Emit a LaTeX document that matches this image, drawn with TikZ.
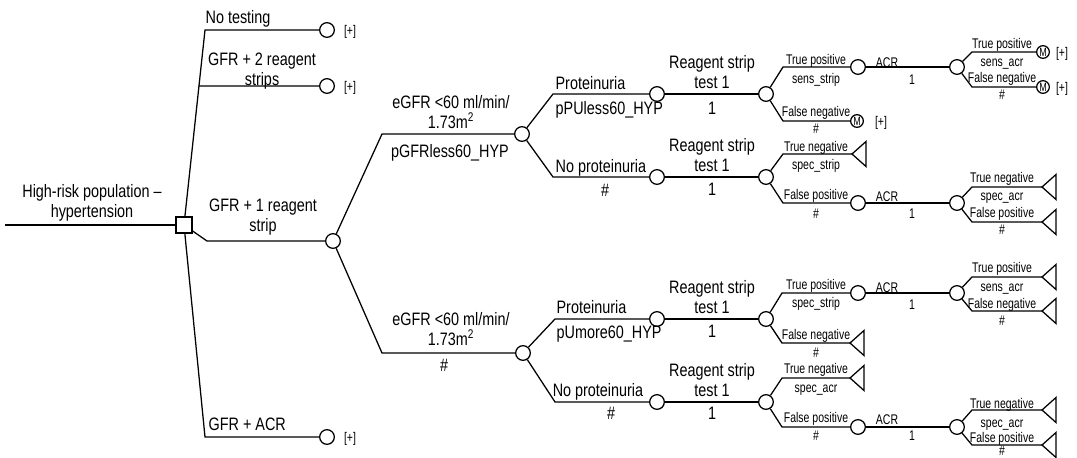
\documentclass[tikz,border=0pt]{standalone}
\usepackage{fontspec}
\setmainfont{Liberation Sans}
\newfontfamily\bigfont[FakeStretch=0.8]{Liberation Sans}
\newfontfamily\smallfont[FakeStretch=0.75]{Liberation Sans}
\usetikzlibrary{calc}

\tikzset{
    decision/.style={draw, rectangle, minimum size=12pt, inner sep=0pt, fill=white},
    chance/.style={draw, circle, minimum size=11pt, inner sep=0pt, fill=white},
    markov/.style={draw, circle, minimum size=9.5pt, inner sep=0pt, fill=white,
        font=\smallfont\fontsize{9}{10}\selectfont},
    lbl/.style={font=\bigfont\fontsize{13.5}{15.2}\selectfont, inner sep=0pt,
        text height=9.7pt, text depth=0pt},
    tlbl/.style={font=\bigfont\fontsize{13.5}{15.2}\selectfont, inner sep=0pt, align=center},
    slbl/.style={font=\smallfont\fontsize{10.5}{12}\selectfont, inner sep=0pt,
        text height=7.5pt, text depth=0pt}
}

% terminal node, apex on the left
\newcommand{\terminal}[1]{\draw (#1) -- ++(14,-12.5) -- ++(0,25) -- cycle;}

\begin{document}
\begin{tikzpicture}[x=0.75pt, y=-0.75pt, line width=0.95pt]
        \useasboundingbox (0,0) rectangle (1077,457);

        % decision
        \coordinate (start) at (5,225);
        \node[decision] (root) at (184,225) {};
        \draw (start) -- (root);
        \node[tlbl] (lroot) at (92,203) {High-risk population –\\hypertension};

        \coordinate (e1) at (205,30);
        \coordinate (e2) at ($(root.north)!0.7!(e1)$);
        \coordinate (e3) at (207,241);
        \coordinate (e4) at (205,437);
        \node[chance] (n1) at (327,30) {};
        \node[chance] (n2) at (327,86) {};
        \node[chance] (c1) at (333,241) {};
        \node[chance] (n4) at (327,437) {};
        \draw (root) -- (e1) -- (n1);
        \draw (e2) -- (n2);
        \draw (root) -- (e3) -- (c1);
        \draw (root) -- (e4) -- (n4);

        \node[lbl, anchor=west] (lnt) at (205,17) {No testing};
        \node[tlbl] (l2s) at (262,71) {GFR + 2 reagent\\strips};
        \node[tlbl] (l1s) at (263,217) {GFR + 1 reagent\\strip};
        \node[lbl, anchor=west] (lacr) at (208,424) {GFR + ACR};
        \node[slbl] (p1) at (350,30) {[+]};
        \node[slbl] (p2) at (350,86) {[+]};
        \node[slbl] (p4) at (350,437) {[+]};

        % eGFR
        \coordinate (e5) at (382,134);
        \coordinate (e6) at (382,353);
        \node[chance] (c2) at (522,134) {};
        \node[chance] (c3) at (523,353) {};
        \draw (c1) -- (e5) -- (c2);
        \draw (c1) -- (e6) -- (c3);
        \node[tlbl] (lg1) at (451,112) {eGFR <60 ml/min/\\1.73m\textsuperscript{2}};
        \node[lbl] (lg1b) at (450,151) {pGFRless60\_HYP};
        \node[tlbl] (lg2) at (451,329) {eGFR <60 ml/min/\\1.73m\textsuperscript{2}};
        \node[lbl] (lg2b) at (444,365) {\#};

        % proteinuria
        \coordinate (e7) at (553,94);
        \coordinate (e8) at (553,177);
        \coordinate (e9) at (555,319);
        \coordinate (e10) at (555,402);
        \node[chance] (r1) at (657,94) {};
        \node[chance] (r2) at (657,177) {};
        \node[chance] (r3) at (657,319) {};
        \node[chance] (r4) at (657,402) {};
        \draw (c2) -- (e7) -- (r1);
        \draw (c2) -- (e8) -- (r2);
        \draw (c3) -- (e9) -- (r3);
        \draw (c3) -- (e10) -- (r4);
        \node[lbl, anchor=west] (lp1) at (555,83) {Proteinuria};
        \node[lbl, anchor=west] (lp1b) at (555,108) {pPUless60\_HYP};
        \node[lbl, anchor=west] (lp2) at (555,166) {No proteinuria};
        \node[lbl] (lp2b) at (605,190) {\#};
        \node[lbl, anchor=west] (lp3) at (556,307) {Proteinuria};
        \node[lbl, anchor=west] (lp3b) at (556,332) {pUmore60\_HYP};
        \node[lbl] (lp4) at (598,390) {No proteinuria};
        \node[lbl] (lp4b) at (611,413) {\#};

        % reagent strip
        \node[chance] (s1) at (766,94) {};
        \node[chance] (s2) at (766,177) {};
        \node[chance] (s3) at (766,319) {};
        \node[chance] (s4) at (766,402) {};
        \draw (r1) -- (s1);
        \draw (r2) -- (s2);
        \draw (r3) -- (s3);
        \draw (r4) -- (s4);
        \node[tlbl] (lr1) at (712,72) {Reagent strip\\test 1};
        \node[lbl] (lr1b) at (712,108) {1};
        \node[tlbl] (lr2) at (712,155) {Reagent strip\\test 1};
        \node[lbl] (lr2b) at (712,189) {1};
        \node[tlbl] (lr3) at (712,297) {Reagent strip\\test 1};
        \node[lbl] (lr3b) at (712,331) {1};
        \node[tlbl] (lr4) at (712,380) {Reagent strip\\test 1};
        \node[lbl] (lr4b) at (712,413) {1};

        % strip results
        \coordinate (f1) at (783,67);
        \coordinate (f2) at (783,121);
        \coordinate (f3) at (783,154);
        \coordinate (f4) at (783,203);
        \coordinate (f5) at (782,293);
        \coordinate (f6) at (782,343);
        \coordinate (f7) at (782,378);
        \coordinate (f8) at (782,427);
        \node[chance] (a1) at (858,67) {};
        \node[markov] (m1) at (857,121) {M};
        \coordinate (t1) at (852,154);
        \node[chance] (a2) at (858,203) {};
        \node[chance] (a3) at (858,293) {};
        \coordinate (t2) at (850,343);
        \coordinate (t3) at (850,378);
        \node[chance] (a4) at (858,427) {};
        \draw (s1) -- (f1) -- (a1);
        \draw (s1) -- (f2) -- (m1);
        \draw (s2) -- (f3) -- (t1);
        \draw (s2) -- (f4) -- (a2);
        \draw (s3) -- (f5) -- (a3);
        \draw (s3) -- (f6) -- (t2);
        \draw (s4) -- (f7) -- (t3);
        \draw (s4) -- (f8) -- (a4);
        \terminal{t1}
        \terminal{t2}
        \terminal{t3}
        \node[slbl] (lt1) at (816,59) {True positive};
        \node[slbl] (lt1b) at (816,78) {sens\_strip};
        \node[slbl] (lt2) at (816,111) {False negative};
        \node[slbl] (lt2b) at (816,128) {\#};
        \node[slbl] (pm1) at (881,121) {[+]};
        \node[slbl] (lt3) at (816,146) {True negative};
        \node[slbl] (lt3b) at (816,164) {spec\_strip};
        \node[slbl] (lt4) at (816,194) {False positive};
        \node[slbl] (lt4b) at (816,213) {\#};
        \node[slbl] (lt5) at (816,284) {True positive};
        \node[slbl] (lt5b) at (816,302) {spec\_strip};
        \node[slbl] (lt6) at (816,334) {False negative};
        \node[slbl] (lt6b) at (816,352) {\#};
        \node[slbl] (lt7) at (816,368) {True negative};
        \node[slbl] (lt7b) at (816,387) {spec\_acr};
        \node[slbl] (lt8) at (816,417) {False positive};
        \node[slbl] (lt8b) at (816,435) {\#};

        % ACR
        \node[chance] (b1) at (957,67) {};
        \node[chance] (b2) at (957,203) {};
        \node[chance] (b3) at (957,293) {};
        \node[chance] (b4) at (957,427) {};
        \draw (a1) -- (b1);
        \draw (a2) -- (b2);
        \draw (a3) -- (b3);
        \draw (a4) -- (b4);
        \node[slbl] (la1) at (887,62) {ACR};
        \node[slbl] (la1b) at (912,79) {1};
        \node[slbl] (la2) at (887,196) {ACR};
        \node[slbl] (la2b) at (912,213) {1};
        \node[slbl] (la3) at (887,287) {ACR};
        \node[slbl] (la3b) at (912,304) {1};
        \node[slbl] (la4) at (887,419) {ACR};
        \node[slbl] (la4b) at (912,435) {1};

        % ACR results
        \coordinate (g1) at (972,52);
        \coordinate (g2) at (972,87);
        \coordinate (g3) at (972,187);
        \coordinate (g4) at (972,222);
        \coordinate (g5) at (972,277);
        \coordinate (g6) at (972,311);
        \coordinate (g7) at (972,410);
        \coordinate (g8) at (972,445);
        \node[markov] (m2) at (1043,52) {M};
        \node[markov] (m3) at (1043,87) {M};
        \coordinate (t4) at (1042,187);
        \coordinate (t5) at (1042,222);
        \coordinate (t6) at (1042,277);
        \coordinate (t7) at (1042,311);
        \coordinate (t8) at (1042,410);
        \coordinate (t9) at (1042,445);
        \draw (b1) -- (g1) -- (m2);
        \draw (b1) -- (g2) -- (m3);
        \draw (b2) -- (g3) -- (t4);
        \draw (b2) -- (g4) -- (t5);
        \draw (b3) -- (g5) -- (t6);
        \draw (b3) -- (g6) -- (t7);
        \draw (b4) -- (g7) -- (t8);
        \draw (b4) -- (g8) -- (t9);
        \terminal{t4}
        \terminal{t5}
        \terminal{t6}
        \terminal{t7}
        \terminal{t8}
        \terminal{t9}
        \node[slbl] (lu1) at (1002,43) {True positive};
        \node[slbl] (lu1b) at (1002,61) {sens\_acr};
        \node[slbl] (lu2) at (1002,77) {False negative};
        \node[slbl] (lu2b) at (1002,94) {\#};
        \node[slbl] (pm2) at (1062,52) {[+]};
        \node[slbl] (pm3) at (1062,87) {[+]};
        \node[slbl] (lu3) at (1002,177) {True negative};
        \node[slbl] (lu3b) at (1002,195) {spec\_acr};
        \node[slbl] (lu4) at (1002,212) {False positive};
        \node[slbl] (lu4b) at (1002,229) {\#};
        \node[slbl] (lu5) at (1002,267) {True positive};
        \node[slbl] (lu5b) at (1002,286) {sens\_acr};
        \node[slbl] (lu6) at (1002,303) {False negative};
        \node[slbl] (lu6b) at (1002,320) {\#};
        \node[slbl] (lu7) at (1002,403) {True negative};
        \node[slbl] (lu7b) at (1002,422) {spec\_acr};
        \node[slbl] (lu8) at (1002,437) {False positive};
        \node[slbl] (lu8b) at (1002,450) {\#};

\end{tikzpicture}
\end{document}
